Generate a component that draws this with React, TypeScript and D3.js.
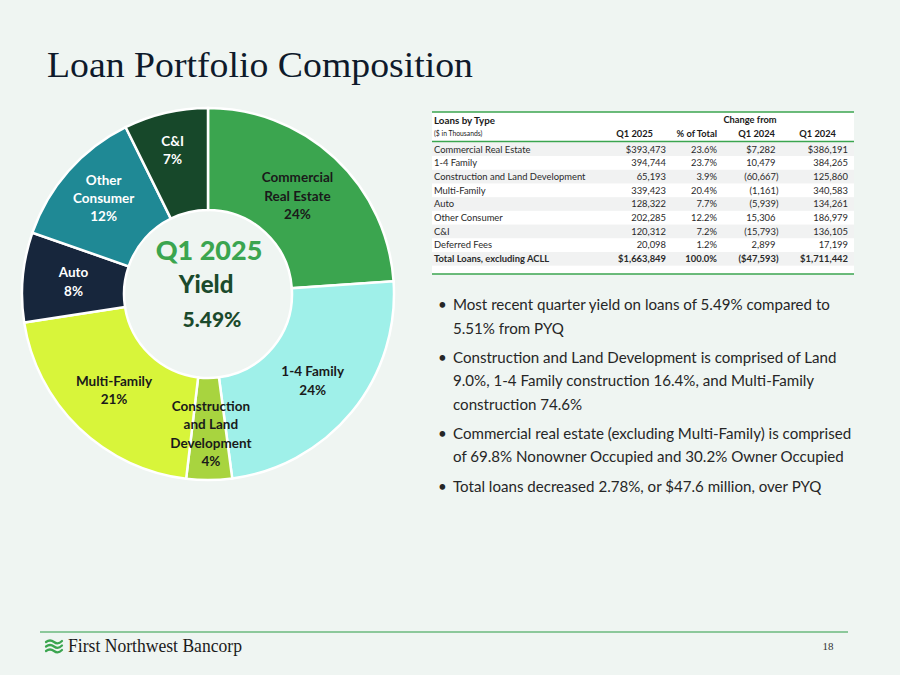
import React, { useEffect, useRef } from 'react';
import * as d3 from 'd3';

// donut slices (deferred fees are left out of the chart)
const sliceLabelLines = [
  ['Commercial', 'Real Estate'],
  ['1-4 Family'],
  ['Construction', 'and Land', 'Development'],
  ['Multi-Family'],
  ['Auto'],
  ['Other', 'Consumer'],
  ['C&I'],
];
const sliceShares = [23.6, 23.7, 3.9, 20.4, 7.7, 12.2, 7.2];
const slicePctLabels = ['24%', '24%', '4%', '21%', '8%', '12%', '7%'];
const sliceColors = ['#3ba54f', '#9ff0e9', '#a8d43f', '#d8f53a', '#17263c', '#1f8995', '#17482a'];
const sliceTextColors = ['#1a1a1a', '#1a1a1a', '#1a1a1a', '#1a1a1a', '#ffffff', '#ffffff', '#ffffff'];
// small label nudges [dx, dy] off the centroid
const labelNudge = [[-2, 0], [1, 2], [2, 6], [-1, 0], [-1, 0], [-4, -7], [-5, -13]];

// table
const tableRows = [
  'Commercial Real Estate', '1-4 Family', 'Construction and Land Development', 'Multi-Family',
  'Auto', 'Other Consumer', 'C&I', 'Deferred Fees', 'Total Loans, excluding ACLL',
];
const q1_2025 = ['$393,473', '394,744', '65,193', '339,423', '128,322', '202,285', '120,312', '20,098', '$1,663,849'];
const pctOfTotal = ['23.6%', '23.7%', '3.9%', '20.4%', '7.7%', '12.2%', '7.2%', '1.2%', '100.0%'];
const changeFromQ1_2024 = ['$7,282', '10,479', '(60,667)', '(1,161)', '(5,939)', '15,306', '(15,793)', '2,899', '($47,593)'];
const q1_2024 = ['$386,191', '384,265', '125,860', '340,583', '134,261', '186,979', '136,105', '17,199', '$1,711,442'];

const bullets = [
  ['Most recent quarter yield on loans of 5.49% compared to', '5.51% from PYQ'],
  ['Construction and Land Development is comprised of Land', '9.0%, 1-4 Family construction 16.4%, and Multi-Family', 'construction 74.6%'],
  ['Commercial real estate (excluding Multi-Family) is comprised', 'of 69.8% Nonowner Occupied and 30.2% Owner Occupied'],
  ['Total loans decreased 2.78%, or $47.6 million, over PYQ'],
];

const SANS = 'Lato, "Open Sans", sans-serif';
const SERIF = '"Liberation Serif", "DejaVu Serif", serif';
const GREEN = '#3ba54f';

export default function App() {
  const svgRef = useRef<SVGSVGElement>(null);

  useEffect(() => {
    document.body.style.margin = '0';
    if (!svgRef.current) return;
    const width = 900;
    const height = 675;
    const svg = d3.select(svgRef.current).attr('width', width).attr('height', height);
    svg.selectAll('*').remove();

    svg.append('rect').attr('width', width).attr('height', height).attr('fill', '#eff5f2');

    // Title
    svg.append('text')
      .attr('x', 47).attr('y', 77)
      .attr('font-family', SERIF).attr('font-size', 36)
      .attr('fill', '#0e1a2b')
      .attr('textLength', 426).attr('lengthAdjust', 'spacingAndGlyphs')
      .text('Loan Portfolio Composition');

    // Donut
    const cx = 208, cy = 294;
    const pie = d3.pie<number>().sort(null).value(d => d);
    const arcs = pie(sliceShares);
    const arc = d3.arc<d3.PieArcDatum<number>>().innerRadius(84).outerRadius(186);
    const labelArc = d3.arc<d3.PieArcDatum<number>>().innerRadius(134).outerRadius(134);

    const donut = svg.append('g').attr('transform', `translate(${cx},${cy})`);
    donut.selectAll('path.slice')
      .data(arcs)
      .enter()
      .append('path')
      .attr('class', 'slice')
      .attr('d', arc)
      .attr('fill', (_d, i) => sliceColors[i])
      .attr('stroke', '#ffffff')
      .attr('stroke-width', 2.5);

    const lh = 18.3;
    arcs.forEach((a, i) => {
      const [lx, ly] = labelArc.centroid(a);
      const lines = [...sliceLabelLines[i], slicePctLabels[i]];
      const x = lx + labelNudge[i][0];
      const y0 = ly + labelNudge[i][1] - ((lines.length - 1) * lh) / 2 + 4.6;
      const t = donut.append('text')
        .attr('text-anchor', 'middle')
        .attr('font-family', SANS).attr('font-weight', 700).attr('font-size', 13.5)
        .attr('fill', sliceTextColors[i]);
      lines.forEach((ln, j) => {
        t.append('tspan').attr('x', x).attr('y', y0 + j * lh).text(ln);
      });
    });

    // Center text
    svg.append('text').attr('x', 209).attr('y', 260).attr('text-anchor', 'middle')
      .attr('font-family', SANS).attr('font-weight', 900).attr('font-size', 27)
      .attr('fill', GREEN).text('Q1 2025');
    svg.append('text').attr('x', 206).attr('y', 293).attr('text-anchor', 'middle')
      .attr('font-family', SANS).attr('font-weight', 900).attr('font-size', 24)
      .attr('fill', '#1b4a2c').text('Yield');
    svg.append('text').attr('x', 212).attr('y', 327).attr('text-anchor', 'middle')
      .attr('font-family', SANS).attr('font-weight', 900).attr('font-size', 21)
      .attr('fill', '#1b4a2c').text('5.49%');

    // Table
    const tx0 = 432, tx1 = 854;
    const rowY = d3.scaleLinear().domain([0, 1]).range([149.2, 162.9]);
    const rowH = rowY(1) - rowY(0);
    const table = svg.append('g').attr('font-family', SANS).attr('fill', '#222222');
    table.append('rect').attr('x', tx0).attr('y', 112).attr('width', tx1 - tx0).attr('height', 274 - 112).attr('fill', '#ffffff');
    tableRows.forEach((_r, i) => {
      if (i % 2 === 0) {
        table.append('rect')
          .attr('x', tx0).attr('y', rowY(i) - rowH / 2)
          .attr('width', tx1 - tx0).attr('height', rowH)
          .attr('fill', '#f1f2f2');
      }
    });
    const lineAt = (y: number) => table.append('line')
      .attr('x1', tx0).attr('x2', tx1).attr('y1', y).attr('y2', y)
      .attr('stroke', GREEN).attr('stroke-width', 1.6);
    lineAt(112);
    lineAt(141.5);
    lineAt(274);

    const hdr = (x: number, y: number, s: string, anchor: string, size = 9.3, weight = 700) =>
      table.append('text').attr('x', x).attr('y', y).attr('text-anchor', anchor)
        .attr('font-size', size).attr('font-weight', weight).attr('fill', '#1a1a1a').text(s);
    hdr(434, 124, 'Loans by Type', 'start', 9.8);
    hdr(434, 136, '($ in Thousands)', 'start', 6.8, 400);
    hdr(750, 123, 'Change from', 'middle');
    hdr(653, 136.5, 'Q1 2025', 'end');
    hdr(717, 136.5, '% of Total', 'end');
    hdr(775, 136.5, 'Q1 2024', 'end');
    hdr(836, 136.5, 'Q1 2024', 'end');

    tableRows.forEach((r, i) => {
      const y = rowY(i) + 3.3;
      const bold = i === tableRows.length - 1 ? 700 : 400;
      const cell = (x: number, s: string, anchor: string) =>
        table.append('text').attr('x', x).attr('y', y).attr('text-anchor', anchor)
          .attr('font-size', 9.4).attr('font-weight', bold).attr('fill', '#2a2a2a').text(s);
      cell(434, r, 'start');
      cell(666, q1_2025[i], 'end');
      cell(717, pctOfTotal[i], 'end');
      const neg = changeFromQ1_2024[i].endsWith(')');
      cell(neg ? 778.5 : 775.5, changeFromQ1_2024[i], 'end');
      cell(848, q1_2024[i], 'end');
    });

    // Bullets
    const bulletG = svg.append('g').attr('font-family', SANS).attr('font-size', 15.1).attr('fill', '#262626');
    let by = 310;
    bullets.forEach(lines => {
      bulletG.append('text').attr('x', 438).attr('y', by).text('•');
      lines.forEach((ln, j) => {
        bulletG.append('text').attr('x', 453).attr('y', by + j * 23.5).text(ln);
      });
      by += (lines.length - 1) * 23.5 + 29.2;
    });

    // Footer
    svg.append('line').attr('x1', 40).attr('x2', 848).attr('y1', 632).attr('y2', 632)
      .attr('stroke', '#8cc89b').attr('stroke-width', 2);
    const logo = svg.append('g').attr('fill', 'none').attr('stroke', GREEN).attr('stroke-width', 2.2).attr('stroke-linecap', 'round');
    [0, 4.5, 9].forEach(dy => {
      logo.append('path').attr('d', `M46,${642 + dy} q4,-3 8,0 t8,-1`);
    });
    svg.append('text').attr('x', 68).attr('y', 652)
      .attr('font-family', SERIF).attr('font-size', 18).attr('fill', '#1a1a1a')
      .attr('textLength', 174).attr('lengthAdjust', 'spacingAndGlyphs')
      .text('First Northwest Bancorp');
    svg.append('text').attr('x', 828).attr('y', 650).attr('text-anchor', 'middle')
      .attr('font-family', SERIF).attr('font-size', 11).attr('fill', '#333333').text('18');
  }, []);

  return <svg ref={svgRef} style={{ display: 'block' }} />;
}
